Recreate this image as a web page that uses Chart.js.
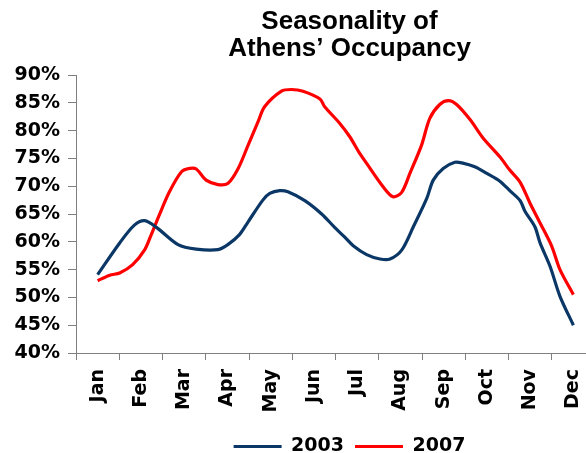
<!DOCTYPE html>
<html>
<head>
<meta charset="utf-8">
<script src="https://cdn.jsdelivr.net/npm/chart.js@4/dist/chart.umd.min.js"></script>
<style>
  html, body { margin: 0; padding: 0; background: #ffffff; }
  #frame { width: 586px; height: 453px; overflow: hidden; position: relative; }
  #chart { display: block; }
</style>
</head>
<body>
<div id="frame"><canvas id="chart" width="699" height="466"></canvas></div>
<script>
// Month labels along the x axis
const months = ['Jan', 'Feb', 'Mar', 'Apr', 'May', 'Jun', 'Jul', 'Aug', 'Sep', 'Oct', 'Nov', 'Dec'];

// Position within the year (0 = Jan, 11 = Dec) and occupancy in %
const pos2003 = [0.00, 0.51, 0.85, 1.09, 1.36, 1.86, 2.28, 2.78, 3.01, 3.28, 3.48, 3.82, 3.98, 4.21, 4.40,
                 4.79, 5.18, 5.48, 5.72, 5.91, 6.22, 6.53, 6.76, 7.03, 7.30, 7.61, 7.76, 7.99, 8.26, 8.42,
                 8.72, 9.00, 9.30, 9.53, 9.77, 9.88, 10.11, 10.23, 10.46, 10.69, 11.00];
const occ2003 = [54.1, 59.8, 63.0, 63.8, 62.6, 59.5, 58.7, 58.6, 59.5, 61.3, 63.6, 67.5, 68.7, 69.2, 69.0,
                 67.4, 65.0, 62.6, 60.8, 59.3, 57.7, 56.9, 56.9, 58.5, 62.7, 67.8, 71.1, 73.2, 74.3, 74.2,
                 73.5, 72.3, 70.9, 69.2, 67.4, 65.5, 62.7, 59.8, 55.6, 50.2, 45.0];

const pos2007 = [0.00, 0.28, 0.51, 0.81, 1.09, 1.24, 1.43, 1.66, 1.94, 2.13, 2.28, 2.51, 2.78, 3.01, 3.25,
                 3.48, 3.71, 3.86, 4.25, 4.48, 4.75, 5.14, 5.25, 5.60, 5.83, 6.06, 6.22, 6.60, 6.83, 7.03,
                 7.22, 7.49, 7.68, 7.91, 8.11, 8.30, 8.61, 8.92, 9.30, 9.53, 9.77, 10.00, 10.23, 10.50, 10.69,
                 11.00];
const occ2007 = [53.0, 54.0, 54.4, 55.9, 58.6, 61.3, 64.9, 69.0, 72.6, 73.2, 73.1, 71.1, 70.3, 70.5, 73.2,
                 77.4, 81.6, 84.3, 87.1, 87.4, 87.1, 85.7, 84.3, 81.3, 78.9, 75.9, 74.1, 69.9, 68.1, 68.9,
                 72.3, 77.4, 82.2, 84.7, 85.4, 84.7, 82.0, 78.6, 75.3, 72.9, 70.7, 66.9, 63.4, 59.2, 55.0,
                 50.5];

// Percentage axis range
const yMin = 40;
const yMax = 90;
const yStep = 5;

const toPoints = (xs, ys) => xs.map((x, i) => ({ x: x, y: ys[i] }));

const tickFont = { family: 'DejaVu Sans', weight: 'bold', size: 19 };
const axisGray = '#7f7f7f';

new Chart(document.getElementById('chart'), {
  type: 'line',
  data: {
    labels: months,
    datasets: [
      {
        label: '2003',
        data: toPoints(pos2003, occ2003),
        xAxisID: 'xv',
        borderColor: '#0a3766',
        backgroundColor: '#0a3766',
        borderWidth: 3.2,
        pointRadius: 0,
        tension: 0.3,
        fill: false
      },
      {
        label: '2007',
        data: toPoints(pos2007, occ2007),
        xAxisID: 'xv',
        borderColor: '#ff0000',
        backgroundColor: '#ff0000',
        borderWidth: 3.2,
        pointRadius: 0,
        tension: 0.3,
        fill: false
      }
    ]
  },
  options: {
    responsive: false,
    animation: false,
    layout: { padding: 0 },
    scales: {
      x: {
        type: 'category',
        position: 'bottom',
        offset: true,
        afterFit: (scale) => { scale.height = 73; },
        grid: {
          display: true,
          drawOnChartArea: false,
          offset: true,
          tickLength: 7,
          tickColor: axisGray
        },
        border: { display: true, color: axisGray, width: 1 },
        ticks: {
          autoSkip: false,
          maxRotation: 90,
          minRotation: 90,
          padding: 9,
          color: '#000000',
          font: tickFont
        }
      },
      xv: {
        type: 'linear',
        position: 'bottom',
        display: false,
        min: -0.5,
        max: 11.5
      },
      y: {
        min: yMin,
        max: yMax,
        afterFit: (scale) => { scale.width = 76; },
        grid: {
          display: true,
          drawOnChartArea: false,
          tickLength: 8,
          tickColor: axisGray
        },
        border: { display: true, color: axisGray, width: 1 },
        ticks: {
          stepSize: yStep,
          padding: 8,
          color: '#000000',
          font: tickFont,
          callback: (v) => v + '%'
        }
      },
      // empty right-hand margin scale: keeps the plot narrower than the title band
      yMargin: {
        position: 'right',
        afterFit: (scale) => { scale.width = 104; },
        grid: { display: false },
        border: { display: false },
        ticks: { display: false }
      }
    },
    plugins: {
      title: {
        display: true,
        text: ['Seasonality of', 'Athens\u2019 Occupancy'],
        color: '#000000',
        font: { family: 'Liberation Sans', weight: 'bold', size: 26, lineHeight: 1.02 },
        padding: { top: 9, bottom: 13 }
      },
      legend: {
        display: true,
        position: 'bottom',
        labels: {
          boxWidth: 48,
          boxHeight: 3,
          padding: 11,
          color: '#000000',
          font: tickFont,
          generateLabels: (chart) =>
            Chart.defaults.plugins.legend.labels.generateLabels(chart).map((item) => ({
              ...item,
              fillStyle: item.strokeStyle,
              lineWidth: 0
            }))
        }
      },
      tooltip: { enabled: false }
    }
  }
});
</script>
</body>
</html>
